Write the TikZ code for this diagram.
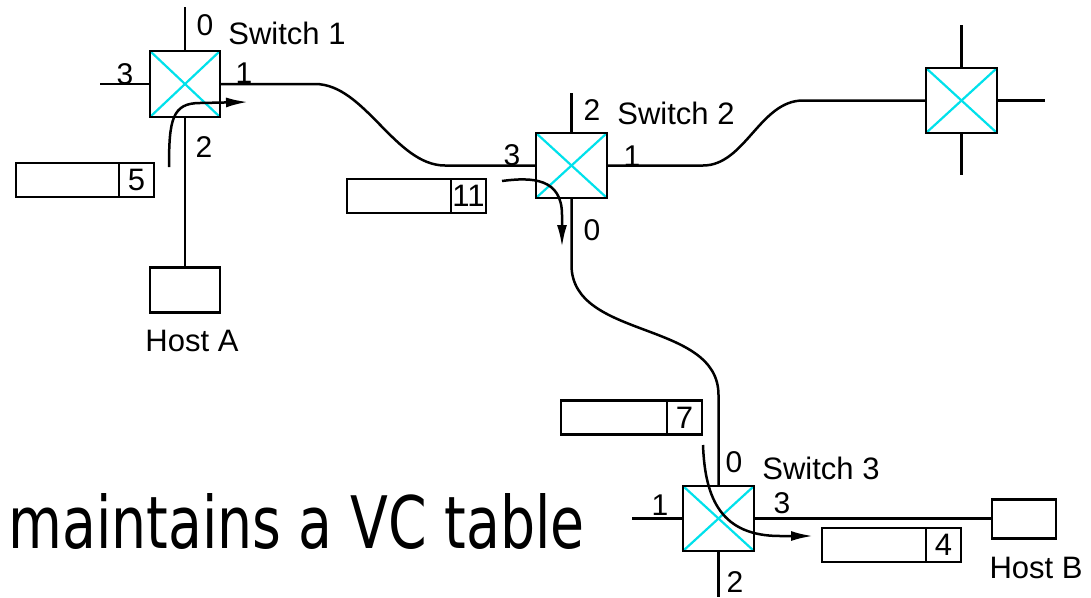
\documentclass[tikz,border=0pt]{standalone}
\usepackage{fontspec}
\setmainfont{Liberation Sans}
\newfontfamily\bigfont{DejaVu Sans}
\usetikzlibrary{arrows.meta}
\definecolor{swcyan}{RGB}{0,225,235}
\begin{document}
\begin{tikzpicture}[x=1pt,y=-1pt,
  line width=2.5pt,
  sw/.style={draw=black, line width=2.7pt, fill=white, minimum width=71pt, minimum height=65pt,
    inner sep=0pt, outer sep=0pt,
    path picture={\draw[swcyan, line width=2.2pt]
      (path picture bounding box.north west) -- (path picture bounding box.south east)
      (path picture bounding box.north east) -- (path picture bounding box.south west);}},
  host/.style={draw=black, line width=2.5pt, fill=white, inner sep=0pt, outer sep=0pt},
  pkt/.style={draw=black, line width=2.5pt, minimum height=34pt, inner sep=0pt, outer sep=0pt},
  cell/.style={draw=black, line width=2.5pt, minimum width=35pt, minimum height=34pt, inner sep=0pt, outer sep=0pt,
    font=\fontsize{31}{32}\selectfont},
  lab/.style={inner sep=0pt, font=\fontsize{30}{32}\selectfont},
  swname/.style={inner sep=0pt, font=\fontsize{31}{34}\selectfont},
  flow/.style={line width=2.5pt, -{Latex[length=22pt,width=10pt]}}
]
\useasboundingbox (0,0) rectangle (1091,597);

% switches and hosts
\node[sw, minimum width=70pt, minimum height=66pt] (s1) at (185,84) {};
\node[sw] (s2) at (571.5,165.5) {};
\node[sw] (s4) at (961.5,100.5) {};
\node[sw] (s3) at (718.5,518.5) {};
\node[host, minimum width=70pt, minimum height=45pt] (hA) at (185,290) {};
\node[host, minimum width=64pt, minimum height=39pt] (hB) at (1024,519) {};

% connectors between switches
\coordinate (k1) at (315,84);
\coordinate (k2) at (445,165.5);
\draw (s1.east) -- (k1) .. controls +(50,0) and +(-50,0) .. (k2) -- (s2.west);
\coordinate (k3) at (703,165.5);
\coordinate (k4) at (803,100.5);
\draw (s2.east) -- (k3) .. controls +(42,0) and +(-43,0) .. (k4) -- (s4.west);
\coordinate (k5) at (571.5,265);
\coordinate (k6) at (718.5,395);
\draw (s2.south) -- (k5) .. controls +(0,75) and +(0,-75) .. (k6) -- (s3.north);
\draw (s1.south) -- (s1.south |- hA.north);
\draw (s3.east) -- (s3.east -| hB.west);

% port stubs
\draw (s1.north) -- ++(0,-44);
\draw (s1.west) -- ++(-50,0);
\draw (s2.north) -- ++(0,-40);
\draw (s4.north) -- ++(0,-43);
\draw (s4.south) -- ++(0,42);
\draw (s4.east) -- ++(48,0);
\draw (s3.west) -- ++(-51,0);
\draw (s3.south) -- ++(0,46);

% port labels and names
\node[lab] (l10) at (205,25) {0};
\node[lab] (l13) at (125,74) {3};
\node[lab] (l11) at (244,73) {1};
\node[lab] (l12) at (204,147) {2};
\node[swname] (n1) at (287,33) {Switch 1};
\node[lab] (l22) at (592,110) {2};
\node[lab] (l23) at (512,155) {3};
\node[lab] (l21) at (632,156) {1};
\node[lab] (l20) at (592,230) {0};
\node[swname] (n2) at (676,113) {Switch 2};
\node[lab] (l30) at (734,462) {0};
\node[lab] (l31) at (660,505) {1};
\node[lab] (l33) at (782,503) {3};
\node[lab] (l32) at (735,582) {2};
\node[swname] (n3) at (821,468) {Switch 3};
\node[swname] (hAl) at (192,341) {Host A};
\node[swname] (hBl) at (1036,568) {Host B};

% packets
\node[pkt, minimum width=138pt] (p5) at (85,180) {};
\node[cell, anchor=east] (c5) at (p5.east) {5};
\node[pkt, minimum width=139pt] (p11) at (416.5,196) {};
\node[cell, anchor=east] (c11) at (p11.east) {11};
\node[pkt, minimum width=141pt] (p7) at (631.5,417.5) {};
\node[cell, anchor=east] (c7) at (p7.east) {7};
\node[pkt, minimum width=139pt] (p4) at (891.5,545) {};
\node[cell, anchor=east] (c4) at (p4.east) {4};

% packet flow arrows
\coordinate (a1s) at (169,167);
\coordinate (a1m) at (200,103);
\coordinate (a1e) at (248,102);
\draw[flow] (a1s) .. controls (169,120) and (172,103) .. (a1m) -- (a1e);
\coordinate (a2s) at (502,181);
\coordinate (a2m) at (562,215);
\coordinate (a2e) at (562,247);
\draw[flow] (a2s) .. controls (532,177) and (562,178) .. (a2m) -- (a2e);
\coordinate (a3s) at (703,445);
\coordinate (a3m) at (780,536);
\coordinate (a3e) at (813,536);
\draw[flow] (a3s) .. controls (705,500) and (722,536) .. (a3m) -- (a3e);

% caption
\node[anchor=base west, inner sep=0pt] (vc) at (7,548)
  {\resizebox{576pt}{55pt}{\bigfont maintains a VC table}};
\end{tikzpicture}
\end{document}
